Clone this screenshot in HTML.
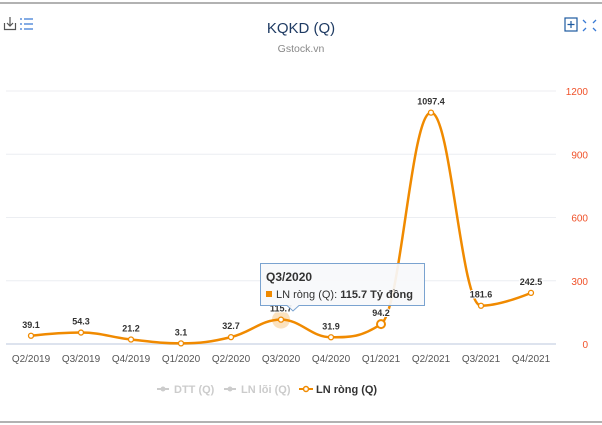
<!DOCTYPE html>
<html><head><meta charset="utf-8"><style>
body{margin:0;background:#fff;font-family:"Liberation Sans",sans-serif}
svg{display:block}
</style></head><body>
<svg width="602" height="425" id="c">
<line x1="0" y1="3" x2="602" y2="3" stroke="#999" stroke-width="1.5"/>
<line x1="0" y1="422" x2="602" y2="422" stroke="#999" stroke-width="1.5"/>
<g stroke="#555" fill="none" stroke-width="1.2"><path d="M4.5 23 V29.5 H15.5 V23 M10 17 V26 M7 23 L10 26 L13 23"/></g>
<g stroke="#3a7bd5" stroke-width="1.3"><path d="M20 19 h2 M24 19 h9 M20 24 h2 M24 24 h9 M20 29 h2 M24 29 h9"/></g>
<g stroke="#1d5aa0" fill="none" stroke-width="1.2"><rect x="565" y="18" width="12" height="13"/><path d="M571 21 v7 M567.5 24.5 h7"/></g>
<g stroke="#3a7bd5" fill="none" stroke-width="1.3"><path d="M583 20 l3 3 M596 20 l-3 3 M583 31 l3 -3 M596 31 l-3 -3"/></g>
<text x="301" y="33" text-anchor="middle" font-size="15" fill="#1f3b63">KQKD (Q)</text>
<text x="301" y="52" text-anchor="middle" font-size="10.5" fill="#888">Gstock.vn</text>
<g id="grid"></g><g id="xl"></g><g id="series"></g><g id="labels"></g>
<g font-size="11" font-weight="bold">
<g><line x1="157" y1="389" x2="169" y2="389" stroke="#ccc" stroke-width="2"/><circle cx="163" cy="389" r="2.5" fill="#ccc"/><text x="174" y="393" fill="#ccc">DTT (Q)</text></g>
<g><line x1="224" y1="389" x2="236" y2="389" stroke="#ccc" stroke-width="2"/><circle cx="230" cy="389" r="2.5" fill="#ccc"/><text x="241" y="393" fill="#ccc">LN lõi (Q)</text></g>
<g><line x1="299" y1="389" x2="313" y2="389" stroke="#f08a00" stroke-width="2"/><circle cx="306" cy="389" r="2.5" fill="#fff" stroke="#f08a00" stroke-width="1.5"/><text x="316" y="393" fill="#333">LN ròng (Q)</text></g>
</g>
<g>
<path d="M260.5 263.5 H424.5 V305.5 H299 L293 311 L287 305.5 H260.5 Z" fill="#f7f9fb" fill-opacity="0.92" stroke="#7aa3d0"/>
<text x="266" y="281" font-size="12" font-weight="bold" fill="#333">Q3/2020</text>
<rect x="266" y="291" width="6" height="6" fill="#f08a00"/>
<text x="276" y="298" font-size="11" fill="#333">LN ròng (Q): <tspan font-weight="bold">115.7 Tỷ đồng</tspan></text>
</g>
</svg>
<script>
const categories=["Q2/2019","Q3/2019","Q4/2019","Q1/2020","Q2/2020","Q3/2020","Q4/2020","Q1/2021","Q2/2021","Q3/2021","Q4/2021"];
const lnRong=[39.1,54.3,21.2,3.1,32.7,115.7,31.9,94.2,1097.4,181.6,242.5];
const yTicks=[0,300,600,900,1200];
const NS="http://www.w3.org/2000/svg";
const X0=6,X1=556,Y0=344,Y1=91,YMAX=1200;
const xs=i=>X0+(X1-X0)/categories.length*(i+0.5);
const ys=v=>Y0-(v/YMAX)*(Y0-Y1);
function el(t,a,p){const e=document.createElementNS(NS,t);for(const k in a)e.setAttribute(k,a[k]);document.getElementById(p).appendChild(e);return e;}
yTicks.forEach(v=>{
 const l=el('line',{x1:X0,x2:X1,y1:ys(v),y2:ys(v),stroke:v===0?'#dde3ee':'#eceef2','stroke-width':v===0?2:1},'grid');
 
 
 const t=el('text',{x:588,y:ys(v)+4,'text-anchor':'end','font-size':10,fill:'#f0522a'},'grid');t.textContent=v;
 
 
});
categories.forEach((c,i)=>{
 const t=el('text',{x:xs(i),y:362,'text-anchor':'middle','font-size':10,fill:'#555'},'xl');t.textContent=c;
 
 
});
const pts=lnRong.map((v,i)=>[xs(i),ys(v)]);
let d='M'+pts[0][0]+' '+pts[0][1];
const sm=1.5,den=2.5;
function ctrl(i){
 const p=pts[i],a=pts[i-1],b=pts[i+1];
 if(!a||!b)return [p,p];
 let lx=(sm*p[0]+a[0])/den,ly=(sm*p[1]+a[1])/den,rx=(sm*p[0]+b[0])/den,ry=(sm*p[1]+b[1])/den;
 let corr=0;if(rx!==lx)corr=((ry-ly)*(rx-p[0]))/(rx-lx)+p[1]-ry;
 ly+=corr;ry+=corr;
 if(ly>Math.max(a[1],p[1])){ly=Math.max(a[1],p[1]);ry=2*p[1]-ly;}
 if(ly<Math.min(a[1],p[1])){ly=Math.min(a[1],p[1]);ry=2*p[1]-ly;}
 if(ry>Math.max(b[1],p[1])){ry=Math.max(b[1],p[1]);ly=2*p[1]-ry;}
 if(ry<Math.min(b[1],p[1])){ry=Math.min(b[1],p[1]);ly=2*p[1]-ry;}
 return [[lx,ly],[rx,ry]];
}
for(let i=1;i<pts.length;i++){
 const c1=ctrl(i-1)[1],c2=ctrl(i)[0];
 d+=` C${c1[0]} ${c1[1]} ${c2[0]} ${c2[1]} ${pts[i][0]} ${pts[i][1]}`;
}
const h=el('circle',{cx:pts[5][0],cy:pts[5][1],r:9,fill:'#f08a00','fill-opacity':0.25},'series');


const line=el('path',{d:d,fill:'none',stroke:'#f08a00','stroke-width':2.5},'series');


pts.forEach((p,i)=>{
 const big=i===7;
 const m=el('circle',{cx:p[0],cy:p[1],r:big?4:2.5,fill:'#fff',stroke:'#f08a00','stroke-width':big?2:1.3},'series');
 
 
 const t=el('text',{x:p[0],y:p[1]-8,'text-anchor':'middle','font-size':9,'font-weight':'bold',fill:'#333',stroke:'#fff','stroke-width':2,'paint-order':'stroke'},'labels');
 t.textContent=lnRong[i].toFixed(1);
 
 
});
</script>
</body></html>
